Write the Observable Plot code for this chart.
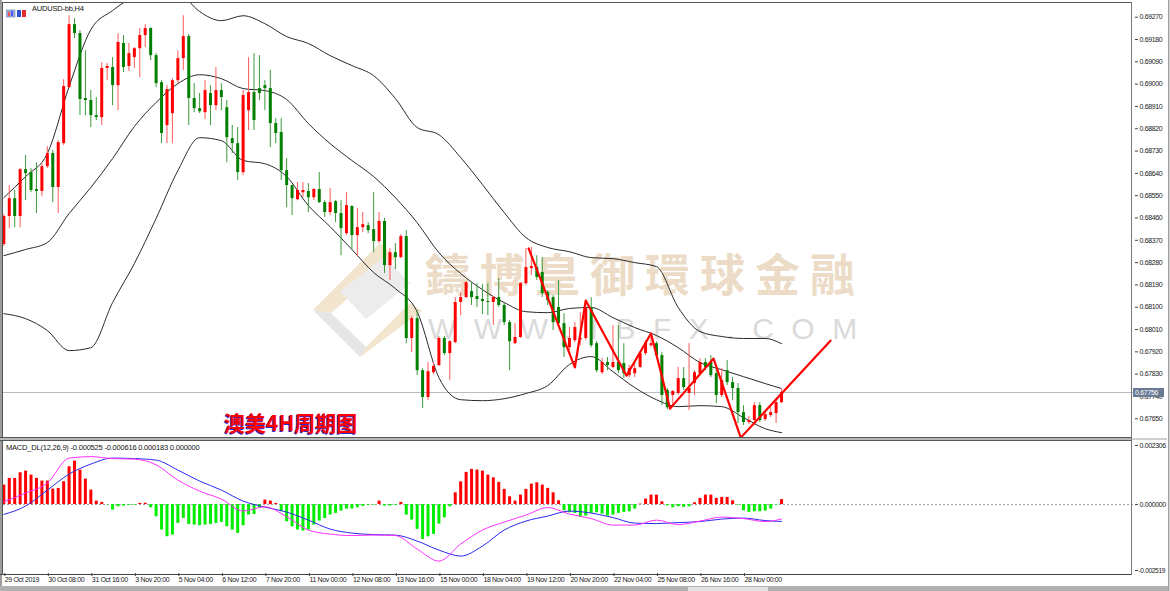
<!DOCTYPE html>
<html><head><meta charset="utf-8">
<script src="https://cdn.jsdelivr.net/npm/d3@7"></script>
<script src="https://cdn.jsdelivr.net/npm/@observablehq/plot@0.6"></script>
<style>
body{margin:0;background:#fff;}
#wrap{position:relative;width:1170px;height:591px;overflow:hidden;background:#fff;font-family:"Liberation Sans",Arial,sans-serif;}
.abs{position:absolute;}
</style></head><body><div id="wrap"></div>
<script>
const symbolLabel = "AUDUSD-bb,H4";
const macdLabel = "MACD_DL(12,26,9) -0.000525 -0.000616 0.000183 0.000000";
const noteLabel = "澳美4H周期图";
const lastPrice = 0.67756;

const open = [
0.68353,0.68466,0.68538,0.68466,0.68655,0.68643,0.68575,0.68567,0.68667,0.68720,
0.68583,0.68760,0.68986,0.69240,0.69204,0.68942,0.68934,0.68873,0.68865,0.69063,
0.69067,0.68994,0.69164,0.69071,0.69107,0.69143,0.69196,0.69224,0.69115,0.69006,
0.68833,0.68881,0.69014,0.69103,0.69192,0.68942,0.68901,0.68885,0.68962,0.68913,
0.68974,0.68905,0.68780,0.68760,0.68643,0.68893,0.68966,0.68982,0.68994,0.68982,
0.68841,0.68805,0.68651,0.68591,0.68534,0.68562,0.68567,0.68542,0.68575,0.68522,
0.68482,0.68526,0.68478,0.68397,0.68506,0.68389,0.68421,0.68429,0.68413,0.68365,
0.68446,0.68268,0.68320,0.68300,0.68385,0.67974,0.68054,0.67844,0.67736,0.67836,
0.67865,0.67974,0.67913,0.67957,0.68119,0.68139,0.68163,0.68143,0.68131,0.68123,
0.68119,0.68139,0.68107,0.68038,0.67953,0.67978,0.68195,0.68256,0.68260,0.68240,
0.68159,0.68139,0.68099,0.68034,0.67937,0.67965,0.67969,0.67974,0.68099,0.67953,
0.67836,0.67877,0.67857,0.67877,0.67873,0.67824,0.67832,0.67857,0.67913,0.67945,
0.67953,0.67905,0.67764,0.67744,0.67752,0.67812,0.67752,0.67792,0.67832,0.67877,
0.67877,0.67832,0.67744,0.67844,0.67796,0.67772,0.67675,0.67635,0.67643,0.67703,
0.67647,0.67663,0.67671,0.67715];
const close = [
0.68466,0.68538,0.68466,0.68655,0.68639,0.68571,0.68567,0.68667,0.68720,0.68583,
0.68764,0.68990,0.69240,0.69204,0.68938,0.68934,0.68873,0.68865,0.69063,0.69071,
0.68994,0.69168,0.69067,0.69123,0.69143,0.69196,0.69224,0.69115,0.69002,0.68801,
0.68978,0.69014,0.69103,0.69192,0.68942,0.68901,0.68889,0.68974,0.68913,0.68974,
0.68946,0.68784,0.68760,0.68643,0.68954,0.68966,0.68853,0.68962,0.68982,0.68841,
0.68801,0.68651,0.68591,0.68538,0.68571,0.68571,0.68542,0.68575,0.68522,0.68482,
0.68522,0.68478,0.68417,0.68510,0.68389,0.68421,0.68433,0.68409,0.68365,0.68446,
0.68268,0.68320,0.68300,0.68385,0.67974,0.68054,0.67844,0.67736,0.67840,0.67861,
0.67974,0.67913,0.67961,0.68119,0.68139,0.68199,0.68139,0.68131,0.68123,0.68119,
0.68139,0.68107,0.68038,0.67961,0.67978,0.68195,0.68260,0.68264,0.68220,0.68155,
0.68127,0.68038,0.68034,0.67937,0.67974,0.68018,0.67974,0.68095,0.67945,0.67844,
0.67877,0.67865,0.67877,0.67844,0.67832,0.67852,0.67852,0.67913,0.67957,0.67953,
0.67905,0.67744,0.67695,0.67760,0.67812,0.67776,0.67772,0.67836,0.67877,0.67857,
0.67824,0.67744,0.67804,0.67796,0.67772,0.67675,0.67635,0.67643,0.67703,0.67643,
0.67667,0.67675,0.67715,0.67756];
const high = [
0.68474,0.68591,0.68571,0.68659,0.68712,0.68659,0.68683,0.68679,0.68748,0.68732,
0.68772,0.69018,0.69276,0.69264,0.69216,0.69135,0.68974,0.68946,0.69087,0.69083,
0.69107,0.69204,0.69196,0.69164,0.69147,0.69224,0.69240,0.69228,0.69123,0.69014,
0.68994,0.69022,0.69135,0.69276,0.69200,0.69002,0.68962,0.69014,0.68994,0.69067,
0.69002,0.68934,0.68833,0.68825,0.68974,0.69107,0.69123,0.69115,0.69014,0.69055,
0.68861,0.68861,0.68700,0.68591,0.68603,0.68603,0.68599,0.68579,0.68643,0.68530,
0.68579,0.68530,0.68530,0.68562,0.68510,0.68498,0.68482,0.68441,0.68562,0.68482,
0.68458,0.68337,0.68357,0.68393,0.68409,0.68062,0.68086,0.67852,0.67877,0.67877,
0.67982,0.67982,0.67965,0.68139,0.68159,0.68203,0.68199,0.68195,0.68191,0.68195,
0.68143,0.68216,0.68115,0.68046,0.68034,0.68199,0.68337,0.68341,0.68308,0.68300,
0.68167,0.68147,0.68208,0.68074,0.68018,0.68038,0.68078,0.68127,0.68139,0.67961,
0.67893,0.67897,0.68026,0.68026,0.67953,0.67865,0.67877,0.67917,0.67965,0.67994,
0.67961,0.67917,0.67772,0.67764,0.67857,0.67857,0.67953,0.67844,0.67893,0.67893,
0.67905,0.67865,0.67852,0.67885,0.67816,0.67792,0.67703,0.67659,0.67715,0.67715,
0.67679,0.67695,0.67732,0.67772];
const low = [
0.68345,0.68417,0.68421,0.68421,0.68530,0.68562,0.68478,0.68546,0.68659,0.68522,
0.68478,0.68752,0.68982,0.69184,0.68873,0.68873,0.68825,0.68853,0.68833,0.69014,
0.68913,0.68893,0.69047,0.69051,0.69063,0.69026,0.69147,0.69095,0.68986,0.68760,
0.68760,0.68760,0.69002,0.69055,0.68833,0.68885,0.68881,0.68857,0.68833,0.68893,
0.68893,0.68683,0.68720,0.68611,0.68631,0.68813,0.68813,0.68934,0.68893,0.68744,
0.68760,0.68611,0.68502,0.68470,0.68530,0.68542,0.68482,0.68530,0.68518,0.68462,
0.68470,0.68441,0.68308,0.68389,0.68329,0.68304,0.68401,0.68397,0.68320,0.68357,
0.68236,0.68208,0.68252,0.68296,0.67953,0.67917,0.67824,0.67691,0.67723,0.67828,
0.67861,0.67905,0.67804,0.67953,0.68066,0.68135,0.68107,0.68099,0.68070,0.68066,
0.68026,0.68099,0.68026,0.67844,0.67949,0.67974,0.68187,0.68228,0.68208,0.68139,
0.68107,0.68006,0.68026,0.67897,0.67925,0.67957,0.67945,0.67965,0.67937,0.67836,
0.67828,0.67844,0.67852,0.67832,0.67812,0.67816,0.67816,0.67852,0.67905,0.67937,
0.67897,0.67703,0.67687,0.67695,0.67744,0.67764,0.67683,0.67744,0.67824,0.67844,
0.67816,0.67711,0.67736,0.67784,0.67723,0.67631,0.67623,0.67627,0.67623,0.67635,
0.67639,0.67655,0.67631,0.67711];

// Bollinger bands sampled every 4 bars
const bandIdx = [0,4,8,12,16,20,24,28,32,36,40,44,48,52,56,60,64,68,72,76,80,84,88,92,96,100,104,108,112,116,120,124,128,132,136,140,143];
const bandUpper = [0.68542,0.68627,0.68720,0.68990,0.69220,0.69297,0.69357,0.69410,0.69377,0.69293,0.69256,0.69276,0.69244,0.69192,0.69164,0.69115,0.69075,0.69034,0.68942,0.68825,0.68796,0.68704,0.68595,0.68482,0.68381,0.68341,0.68324,0.68300,0.68296,0.68280,0.68264,0.68099,0.68002,0.67982,0.67974,0.67974,0.67953];
const bandMiddle = [0.68308,0.68333,0.68361,0.68478,0.68583,0.68700,0.68829,0.68926,0.69002,0.69038,0.69022,0.68982,0.68974,0.68938,0.68841,0.68760,0.68692,0.68627,0.68542,0.68441,0.68320,0.68236,0.68171,0.68119,0.68082,0.68078,0.68095,0.68099,0.68058,0.68018,0.67986,0.67937,0.67877,0.67848,0.67820,0.67792,0.67772];
const bandLower = [0.68074,0.68054,0.68006,0.67925,0.67937,0.68119,0.68276,0.68458,0.68651,0.68784,0.68772,0.68692,0.68679,0.68627,0.68510,0.68425,0.68333,0.68240,0.68175,0.68082,0.67816,0.67727,0.67723,0.67731,0.67752,0.67784,0.67869,0.67901,0.67840,0.67776,0.67727,0.67699,0.67703,0.67699,0.67655,0.67610,0.67594];

// Hand-drawn zigzag annotation (bar position, price)
const zigIdx = [96.5,105,107,114.5,119,122.5,130.5,135.5,152];
const zigPrice = [0.68337,0.67857,0.68127,0.67824,0.67994,0.67691,0.67893,0.67574,0.67965];

// MACD
const macdHist = [
0.000713,0.000957,0.000957,0.001163,0.001224,0.001078,0.000957,0.000859,0.000859,0.000567,
0.000591,0.000835,0.001383,0.001590,0.001261,0.000932,0.000530,0.000128,0.000079,-0.000010,
-0.000201,-0.000079,-0.000055,-0.000030,-0.000020,0.000043,0.000050,-0.000116,-0.000445,-0.000932,
-0.001175,-0.001115,-0.000688,-0.000506,-0.000725,-0.000749,-0.000773,-0.000749,-0.000725,-0.000688,
-0.000652,-0.000810,-0.000932,-0.001054,-0.000773,-0.000384,-0.000360,-0.000140,0.000164,0.000128,
0.000043,-0.000262,-0.000627,-0.000810,-0.000932,-0.000969,-0.000932,-0.000749,-0.000603,-0.000506,
-0.000384,-0.000323,-0.000238,-0.000164,-0.000164,-0.000116,-0.000067,-0.000030,-0.000020,0.000128,
-0.000055,-0.000050,-0.000030,0.000080,-0.000384,-0.000567,-0.000907,-0.001272,-0.001177,-0.001089,
-0.000713,-0.000482,-0.000080,0.000431,0.000833,0.001177,0.001287,0.001261,0.001224,0.001078,
0.000980,0.000811,0.000556,0.000285,0.000128,0.000347,0.000556,0.000749,0.000797,0.000713,
0.000592,0.000431,0.000139,-0.000227,-0.000300,-0.000322,-0.000468,-0.000420,-0.000322,-0.000300,
-0.000347,-0.000420,-0.000384,-0.000322,-0.000285,-0.000263,-0.000164,0.000018,0.000201,0.000347,
0.000347,0.000102,-0.000043,-0.000117,-0.000080,-0.000102,-0.000080,0.000066,0.000227,0.000347,
0.000347,0.000227,0.000263,0.000263,0.000139,-0.000020,-0.000227,-0.000285,-0.000263,-0.000263,
-0.000238,-0.000164,-0.000020,0.000183];
const macdDif = [0.000102,0.000420,0.000786,0.001700,0.001754,0.001681,0.001663,0.001455,0.000895,0.000493,0.000201,-0.000238,-0.000080,-0.000442,-0.000932,-0.001078,-0.001133,-0.001115,-0.001133,-0.001626,-0.002065,-0.001444,-0.000932,-0.000640,-0.000384,-0.000110,-0.000347,-0.000512,-0.000749,-0.000749,-0.000567,-0.000731,-0.000603,-0.000457,-0.000512,-0.000621,-0.000525];
const macdDea = [-0.000358,-0.000055,0.000530,0.001115,0.001480,0.001700,0.001681,0.001626,0.001261,0.000859,0.000530,0.000128,-0.000091,-0.000274,-0.000567,-0.000895,-0.001042,-0.001097,-0.001115,-0.001334,-0.001663,-0.001882,-0.001517,-0.000932,-0.000603,-0.000420,-0.000238,-0.000311,-0.000475,-0.000676,-0.000694,-0.000658,-0.000621,-0.000530,-0.000493,-0.000585,-0.000616];

// Axis ticks
const priceTicks = [0.69270,0.69180,0.69090,0.69000,0.68910,0.68820,0.68730,0.68640,0.68550,0.68460,0.68370,0.68280,0.68190,0.68100,0.68010,0.67920,0.67830,0.67740,0.67650];
const macdTickTop = 0.002306, macdTickZero = 0.000000, macdTickBottom = -0.002519;
const timeTickIdx = [0,8,16,24,32,40,48,56,64,72,80,88,96,104,112,120,128,136];
const timeLabels = ["29 Oct 2019","30 Oct 08:00","31 Oct 16:00","3 Nov 20:00","5 Nov 04:00","6 Nov 12:00","7 Nov 20:00","11 Nov 00:00","12 Nov 08:00","13 Nov 16:00","15 Nov 00:00","18 Nov 04:00","19 Nov 12:00","20 Nov 20:00","22 Nov 04:00","25 Nov 08:00","26 Nov 16:00","28 Nov 00:00"];

const wrap = document.getElementById("wrap");
function box(css, html) { const d = document.createElement("div"); d.className = "abs"; d.style.cssText = css; if (html) d.innerHTML = html; wrap.appendChild(d); return d; }

// watermark (behind)
box("left:425px;top:250px;font-family:'Noto Sans CJK TC';font-weight:bold;font-size:45px;line-height:1;letter-spacing:10px;color:#ecdcc7;white-space:nowrap;", "鑄博皇御環球金融");
box("left:428px;top:314px;font-family:'Liberation Sans';font-size:30px;line-height:1;letter-spacing:17.5px;color:#dadada;white-space:nowrap;", "WWW.IBFX.COM");
box("left:300px;top:235px;width:130px;height:130px;", `<svg width="130" height="130"><g opacity="0.9">
<polygon points="13,75 80,8 96,22 31,78" fill="#f1e2c8"/>
<polygon points="13,75 31,78 66,112 60,122" fill="#e4e4e4"/>
<polygon points="60,122 66,112 110,68 122,76" fill="#f1e2c8"/>
<polygon points="40,56 84,22 110,48 66,84" fill="#eaeaea"/>
</g></svg>`);

const N = close.length;
const idx = d3.range(N);
const xDomain = [-0.06, 207.9];
const axisStyle = {background: "transparent", fontFamily: "'Liberation Sans', Arial, sans-serif", fontSize: "7px", color: "#1a1a1a", overflow: "visible", letterSpacing: "-0.35px"};

const priceChart = Plot.plot({
  width: 1167, height: 434,
  marginLeft: 0, marginRight: 36, marginTop: 0, marginBottom: 0,
  style: axisStyle,
  x: {domain: xDomain, axis: null},
  y: {domain: [0.675745, 0.693253], axis: null},
  marks: [
    Plot.ruleY([lastPrice], {stroke: "#b4bcc6", strokeWidth: 1}),
    Plot.line(bandIdx, {x: d => d, y: (d, i) => bandUpper[i], stroke: "#2a2a2a", strokeWidth: 1, curve: "monotone-x", clip: true}),
    Plot.line(bandIdx, {x: d => d, y: (d, i) => bandMiddle[i], stroke: "#2a2a2a", strokeWidth: 1, curve: "monotone-x", clip: true}),
    Plot.line(bandIdx, {x: d => d, y: (d, i) => bandLower[i], stroke: "#2a2a2a", strokeWidth: 1, curve: "monotone-x", clip: true}),
    Plot.ruleX(idx, {x: d => d, y1: i => low[i], y2: i => high[i], stroke: i => close[i] >= open[i] ? "#ff5a5a" : "#3c9a3c", strokeWidth: 1}),
    Plot.ruleX(idx, {x: d => d, y1: i => open[i], y2: i => close[i], stroke: i => close[i] >= open[i] ? "#ff0000" : "#007f00", strokeWidth: 3}),
    Plot.line(zigIdx, {x: d => d, y: (d, i) => zigPrice[i], stroke: "#ff0000", strokeWidth: 2.2}),
    Plot.axisY(priceTicks, {anchor: "right", tickSize: 3, tickPadding: 2, tickFormat: d => d.toFixed(5), stroke: "#404040"})
  ]
});
const pDiv = box("left:3px;top:3px;");
pDiv.appendChild(priceChart);

const macdChart = Plot.plot({
  width: 1167, height: 145,
  marginLeft: 0, marginRight: 36, marginTop: 0, marginBottom: 13,
  style: axisStyle,
  x: {domain: xDomain, axis: null},
  y: {domain: [-0.002519, 0.002306], axis: null},
  marks: [
    Plot.ruleY([0], {stroke: "#9aa2ac", strokeDasharray: "2,2"}),
    Plot.ruleX(idx, {x: d => d, y1: 0, y2: i => macdHist[i], stroke: i => macdHist[i] >= 0 ? "#ff0000" : "#00ee00", strokeWidth: 3}),
    Plot.line(bandIdx, {x: d => d, y: (d, i) => macdDea[i], stroke: "#2a2af0", strokeWidth: 1, curve: "monotone-x"}),
    Plot.line(bandIdx, {x: d => d, y: (d, i) => macdDif[i], stroke: "#ff30ff", strokeWidth: 1, curve: "monotone-x"}),
    Plot.axisY([macdTickTop], {anchor: "right", tickSize: 3, tickPadding: 2, dy: 4, tickFormat: d => d.toFixed(6), stroke: "#404040"}),
    Plot.axisY([macdTickZero], {anchor: "right", tickSize: 3, tickPadding: 2, tickFormat: d => d.toFixed(6), stroke: "#404040"}),
    Plot.axisY([macdTickBottom], {anchor: "right", tickSize: 3, tickPadding: 1, dy: -3, fontSize: 6.6, tickFormat: d => d.toFixed(6), stroke: "#404040"}),
    Plot.axisX(timeTickIdx, {anchor: "bottom", tickSize: 3, tickPadding: 1, textAnchor: "start", dx: 1, tickFormat: d => timeLabels[timeTickIdx.indexOf(d)], stroke: "#404040"})
  ]
});
const mDiv = box("left:3px;top:441px;");
mDiv.appendChild(macdChart);

// frame lines
box("left:0;top:0;width:2px;height:591px;background:#9c9c9c;");
box("left:2px;top:2px;width:1129px;height:1px;background:#555;");
box("left:2px;top:2px;width:1px;height:573px;background:#555;");
box("left:1131px;top:2px;width:1px;height:573px;background:#777;");
box("left:0;top:437px;width:1131px;height:1px;background:#555;");
box("left:0;top:438px;width:1131px;height:2px;background:#b8b8b8;");
box("left:1132px;top:438px;width:35px;height:2px;background:#d0d0d0;");
box("left:0;top:440px;width:1131px;height:1px;background:#555;");
box("left:0;top:574px;width:1131px;height:1px;background:#444;");
box("left:0;top:586px;width:1170px;height:5px;background:#b0b0b0;");
box("left:688px;top:587px;width:80px;height:4px;background:#e4e4e4;");
box("left:1168px;top:0;width:2px;height:591px;background:#d4d4d4;");
box("left:1168px;top:0;width:1px;height:591px;background:#a0a0a0;");

// current price tag
const yLast = priceChart.scale("y").apply(lastPrice) + 3;
box(`left:1133px;top:${yLast - 4.5}px;width:31px;height:9px;background:#687a94;color:#fff;font-size:7px;line-height:9px;letter-spacing:-0.3px;text-align:left;padding-left:2px;box-sizing:border-box;`, lastPrice.toFixed(5));

// labels
box("left:6px;top:4px;width:22px;height:9px;", `<svg width="22" height="9"><rect x="0" y="1" width="9" height="7" fill="#9ab0d8" stroke="#6680b0" stroke-width="0.6"/><rect x="2" y="3" width="2" height="4" fill="#ff5050"/><rect x="5" y="2" width="2" height="5" fill="#5050ff"/><rect x="11" y="1" width="4" height="7" fill="#3050d0"/><rect x="16" y="1" width="4" height="7" fill="#e03030"/></svg>`);
box("left:32px;top:4px;font-size:7.5px;line-height:9px;color:#111;letter-spacing:-0.2px;white-space:nowrap;", symbolLabel);
box("left:6px;top:443px;font-size:7.5px;line-height:9px;color:#111;letter-spacing:-0.2px;white-space:nowrap;", macdLabel);
box("left:224px;top:410px;font-family:'Noto Sans CJK SC';font-weight:bold;font-size:21px;line-height:24px;color:#ff0000;text-shadow:-1px 1px 0 #2a2ad0;white-space:nowrap;", noteLabel);
</script>
</body></html>
